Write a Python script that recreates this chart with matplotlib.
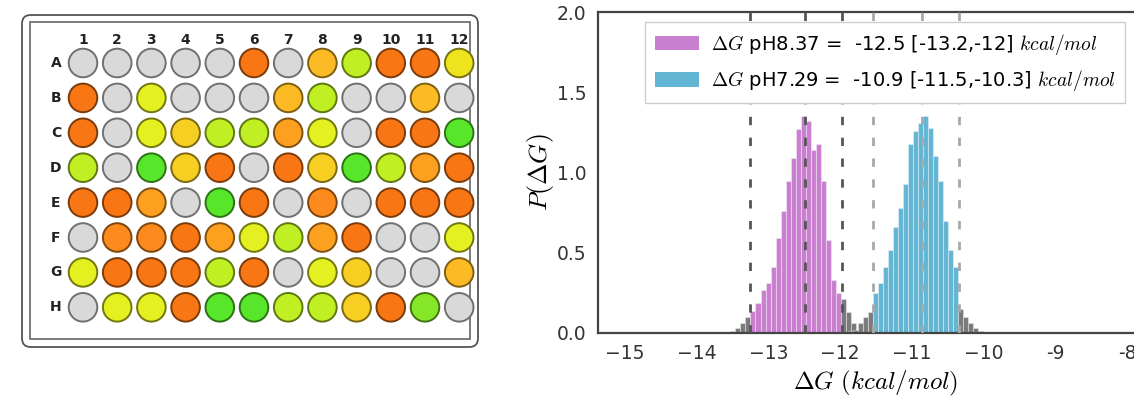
import numpy as np
import matplotlib
matplotlib.use("Agg")
import matplotlib.pyplot as plt
from matplotlib.patches import Ellipse, FancyBboxPatch, Rectangle, Patch
from matplotlib.colors import to_rgb

plt.rcParams['mathtext.fontset'] = 'cm'
plt.rcParams['font.family'] = ['DejaVu Sans']

# ---------------- plate data ----------------
plate_rows = ["A", "B", "C", "D", "E", "F", "G", "H"]
plate_cols = ["1", "2", "3", "4", "5", "6", "7", "8", "9", "10", "11", "12"]
plate_wells = [
    "gggggRgalRRe",
    "Rgygggalggag",
    "RgyYlloygRRG",
    "lgGYRgRYGloR",
    "RRogGRgOgRRR",
    "gOORoyloRggy",
    "yRRRlRgyYgga",
    "gyyRGGllYRLg",
]
well_colors = {
    'g': '#d9d9d9',
    'R': '#f87614',
    'O': '#fc8a1c',
    'o': '#fda01f',
    'a': '#fcbb24',
    'Y': '#f7cf22',
    'e': '#eee41e',
    'y': '#e4f020',
    'l': '#c0f024',
    'L': '#86e628',
    'G': '#58e62a',
}

# ---------------- histogram data ----------------
bin_width = 0.07
ph837_start = -13.67
ph837_heights = [0.004, 0.008, 0.015, 0.03, 0.06, 0.10,
                 0.14, 0.19, 0.27, 0.31, 0.41, 0.59, 0.76, 0.95, 1.09, 1.27,
                 1.35, 1.32, 1.14, 1.18, 0.95, 0.58, 0.33, 0.25,
                 0.21, 0.13, 0.06, 0.02]
ph837_ci = (-13.25, -12.49, -11.98)
ph729_start = -11.89
ph729_heights = [0.01, 0.02, 0.06, 0.10, 0.13,
                 0.25, 0.31, 0.41, 0.52, 0.66, 0.78, 0.93, 1.18, 1.26, 1.31,
                 1.35, 1.28, 1.10, 0.95, 0.70, 0.52, 0.41,
                 0.15, 0.10, 0.06, 0.03, 0.015]
ph729_ci = (-11.54, -10.86, -10.34)
legend_labels = [r"$\Delta G$ pH8.37 =  -12.5 [-13.2,-12] $kcal/mol$",
                 r"$\Delta G$ pH7.29 =  -10.9 [-11.5,-10.3] $kcal/mol$"]
xticks = [-15, -14, -13, -12, -11, -10, -9, -8]
xtick_labels = ["\u221215", "\u221214", "\u221213", "\u221212", "\u221211", "\u221210", "-9", "-8"]
yticks = [0.0, 0.5, 1.0, 1.5, 2.0]
x_range = (-15.38, -7.62)

W, H = 1134, 409
fig = plt.figure(figsize=(W / 100, H / 100), dpi=100)
fig.patch.set_facecolor('white')

# ---------------- plate panel ----------------
PW = 500
axp = fig.add_axes([0, 0, PW / W, 1])
sx, sy = 34.2, 34.9
x0, y0 = 83, 63
def px2x(px):
    return 1 + (px - x0) / sx
def py2y(py):
    return (py - y0) / sy
axp.set_xlim(px2x(0), px2x(PW))
axp.set_ylim(py2y(H), py2y(0))
axp.axis('off')

outer = FancyBboxPatch((px2x(22), py2y(15)), px2x(478) - px2x(22), py2y(347) - py2y(15),
                       boxstyle="round,pad=0,rounding_size=0.25", fc='white', ec='#555555', lw=1.3)
axp.add_patch(outer)
inner = Rectangle((px2x(30), py2y(22)), px2x(470) - px2x(30), py2y(339) - py2y(22),
                  fc='white', ec='#666666', lw=1.2)
axp.add_patch(inner)

r_px = 14.3
for ri, row in enumerate(plate_wells):
    for ci, code in enumerate(row):
        fc = well_colors[code]
        if code == 'g':
            ec = '#707070'
        else:
            ec = tuple(c * 0.5 for c in to_rgb(fc))
        e = Ellipse((ci + 1, ri), 2 * r_px / sx, 2 * r_px / sy, fc=fc, ec=ec, lw=1.4)
        axp.add_patch(e)
for ci, lab in enumerate(plate_cols):
    axp.text(ci + 1, py2y(40), lab, ha='center', va='center', fontsize=10,
             fontweight='bold', color='#222222')
for ri, lab in enumerate(plate_rows):
    axp.text(px2x(56), ri, lab, ha='center', va='center', fontsize=10,
             fontweight='bold', color='#222222')

# ---------------- histogram panel ----------------
px_per_unit = 71.7
ax_left = 625 + (x_range[0] + 15) * px_per_unit
ax_w = (x_range[1] - x_range[0]) * px_per_unit
ax = fig.add_axes([ax_left / W, 1 - 333 / H, ax_w / W, (333 - 12) / H])
purple = '#c87fcf'
blue = '#62b6d3'
grey = '#7a7a7a'

def draw_hist(start, heights, ci, color):
    lefts = start + bin_width * np.arange(len(heights))
    centers = lefts + bin_width / 2
    cols = [color if (ci[0] <= c <= ci[2]) else grey for c in centers]
    ax.bar(lefts, heights, width=bin_width, align='edge', color=cols,
           edgecolor=(1, 1, 1, 0.35), linewidth=0.8, zorder=2)

draw_hist(ph837_start, ph837_heights, ph837_ci, purple)
draw_hist(ph729_start, ph729_heights, ph729_ci, blue)

for v in ph837_ci:
    ax.axvline(v, color='#555555', lw=2.0, ls=(0, (3.0, 4.5)), zorder=3)
for v in ph729_ci:
    ax.axvline(v, color='#a8a8a8', lw=2.0, ls=(0, (3.0, 4.5)), zorder=3)

ax.set_xlim(*x_range)
ax.set_ylim(0, 2.0)
ax.set_xticks(xticks)
ax.set_xticklabels(xtick_labels)
ax.set_yticks(yticks)
ax.set_yticklabels([f"{v:.1f}" for v in yticks])
ax.tick_params(length=0, labelsize=13.5, labelcolor='#333333', pad=8)
for s in ax.spines.values():
    s.set_color('#444444')
    s.set_linewidth(1.6)
ax.set_xlabel(r"$\Delta G\ (kcal/mol)$", fontsize=18, labelpad=4)
ax.set_ylabel(r"$P(\Delta G)$", fontsize=18.5, labelpad=1)

handles = [Patch(fc=purple, ec='none'), Patch(fc=blue, ec='none')]
leg = ax.legend(handles, legend_labels, loc='upper left',
                bbox_to_anchor=(645 / W, 1 - 22 / H), bbox_transform=fig.transFigure,
                fontsize=14, frameon=True, fancybox=False, framealpha=1,
                edgecolor='#cccccc', handlelength=2.3, handleheight=0.75,
                handletextpad=0.6, borderaxespad=0.0, borderpad=0.5, labelspacing=0.6)
leg.set_zorder(5)

fig.savefig('out.png', dpi=100, facecolor='white')
